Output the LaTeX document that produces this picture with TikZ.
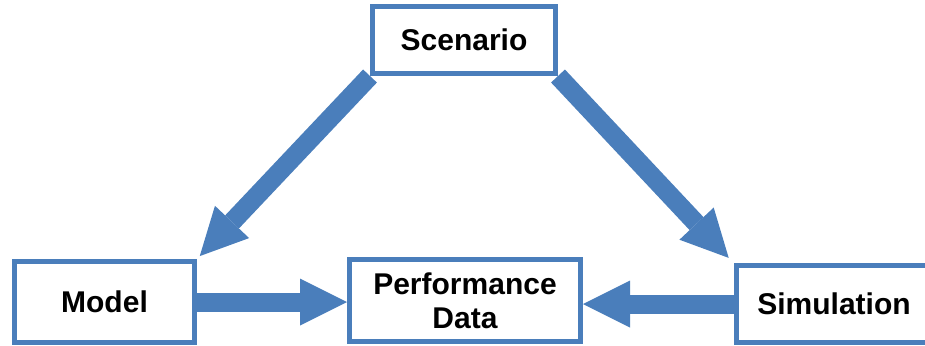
\documentclass[tikz,border=0pt]{standalone}
\usepackage{fontspec}
\setmainfont{Liberation Sans}
\usetikzlibrary{arrows.meta, positioning, backgrounds}
\definecolor{frame}{HTML}{4A7EBB}
\definecolor{ink}{HTML}{000000}
\tikzset{
  font=\fontsize{15}{17}\selectfont\bfseries,
  %
  block/.style={draw=frame, line width=2.5pt, fill=white, align=center,
                text=ink, inner sep=2pt},
  %
  flow/.style={draw=frame, line width=9.5pt,
               -{Triangle[length=23.5pt, width=23.5pt, line width=0pt]}},
}
\begin{document}
\begin{tikzpicture}[x=0.5pt, y=0.5pt]
  \useasboundingbox (0,0) rectangle (925,345);

  % --- boxes -------------------------------------------------------------
  \node[block, minimum width=91.5pt, minimum height=33.5pt] (scen)  at (464,305)  {Scenario};
  \node[block, minimum width=90pt,   minimum height=40.5pt] (model) at (104.5,43) {Model};
  \node[block, minimum width=115.5pt, minimum height=41pt]  (perf)  at (465,44.5) {Performance\\Data};
  \node[block, minimum width=98pt,   minimum height=38.5pt] (sim)   at (834,41)   {Simulation};

  % --- arrows (behind the boxes) ------------------------------------------
  \begin{scope}[on background layer]
    \draw[flow, shorten >=2pt] (scen.south west) -- (model.north east);
    \draw[flow, shorten >=3.5pt] (scen.south east) -- (sim.north west);
    \draw[flow] (model.east) -- (perf.west |- model.east);
    \draw[flow] (sim.west) -- (perf.east |- sim.west);
  \end{scope}

\end{tikzpicture}
\end{document}
